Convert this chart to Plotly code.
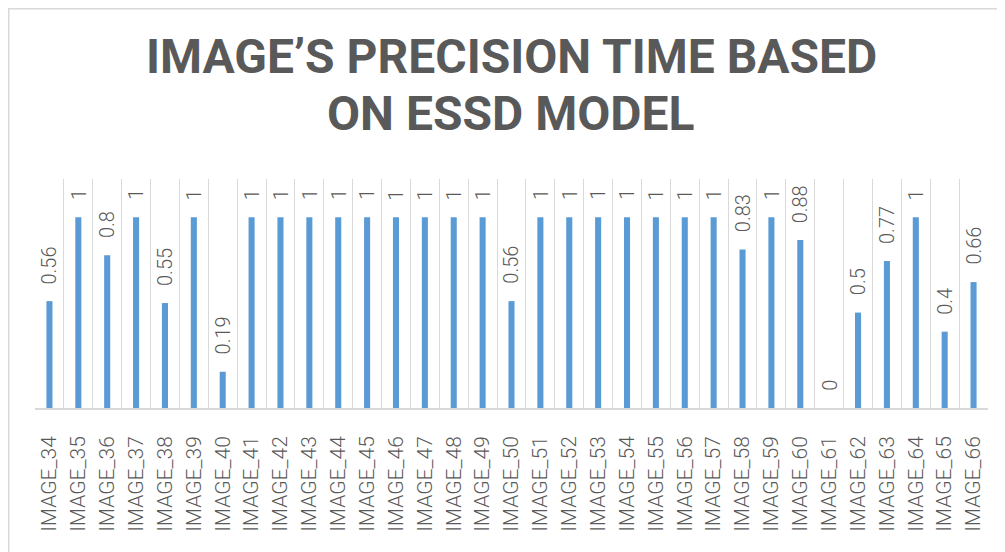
import plotly.graph_objects as go

categories = [f"IMAGE_{i}" for i in range(34, 67)]
values = [0.56, 1, 0.8, 1, 0.55, 1, 0.19, 1, 1, 1, 1, 1, 1, 1, 1, 1,
          0.56, 1, 1, 1, 1, 1, 1, 1, 0.83, 1, 0.88, 0, 0.5, 0.77, 1, 0.4, 0.66]
labels = ["0" if v == 0 else f"{v:g}" for v in values]
title_lines = ["IMAGE\u2019S PRECISION TIME BASED", "ON ESSD MODEL"]

# page has an 8px body margin, so the figure is drawn 8px right/down
OFF = 8
W, H = 1005 - OFF, 552 - OFF
ML, MR, MT, MB = 35 - OFF, 17, 179 - OFF, 144
pw, ph = W - ML - MR, H - MT - MB

def px_x(x):
    return (x - OFF - ML) / pw

def px_y(y):
    return (H - MB - (y - OFF)) / ph

label_font = dict(family="Roboto", size=20, color="#595959", weight=300)
tick_font = dict(family="Roboto", size=21, color="#595959", weight=300)
title_font = dict(family="Roboto", size=48, color="#595959")

fig = go.Figure()
fig.add_trace(go.Bar(x=categories, y=values, marker=dict(color="#5B9BD5", line=dict(width=0)),
                     hoverinfo="x+y"))

annotations = []
for c, v, t in zip(categories, values, labels):
    annotations.append(dict(x=c, y=v, xref="x", yref="y", text=t, showarrow=False,
                            textangle=-90, yanchor="bottom", xanchor="center", yshift=15,
                            font=label_font))

annotations.append(dict(x=px_x(511), y=px_y(56), xref="paper", yref="paper", text="<b>" + title_lines[0] + "</b>",
                        showarrow=False, xanchor="center", yanchor="middle", font=title_font))
annotations.append(dict(x=px_x(510), y=px_y(114), xref="paper", yref="paper", text="<b>" + title_lines[1] + "</b>",
                        showarrow=False, xanchor="center", yanchor="middle", font=title_font))

fig.update_layout(
    width=W, height=H,
    margin=dict(l=ML, r=MR, t=MT, b=MB, autoexpand=False),
    paper_bgcolor="white", plot_bgcolor="white",
    bargap=0.79,
    showlegend=False,
    annotations=annotations,
    shapes=[dict(type="rect", xref="paper", yref="paper",
                 x0=px_x(OFF + 0.75), x1=px_x(1030), y0=px_y(600), y1=px_y(OFF + 0.75),
                 line=dict(color="#D9D9D9", width=1.5), layer="below")],
    xaxis=dict(type="category", tickson="boundaries", showgrid=True, gridcolor="#D9D9D9", gridwidth=1,
               showline=True, linecolor="#D9D9D9", linewidth=1.5, ticks="",
               tickangle=-90, ticklabelstandoff=18, automargin=False,
               tickfont=tick_font, fixedrange=True),
    yaxis=dict(range=[0, 1.2], showgrid=False, zeroline=False, showticklabels=False, showline=False,
               fixedrange=True, automargin=False),
)

fig.write_html("out.html")
